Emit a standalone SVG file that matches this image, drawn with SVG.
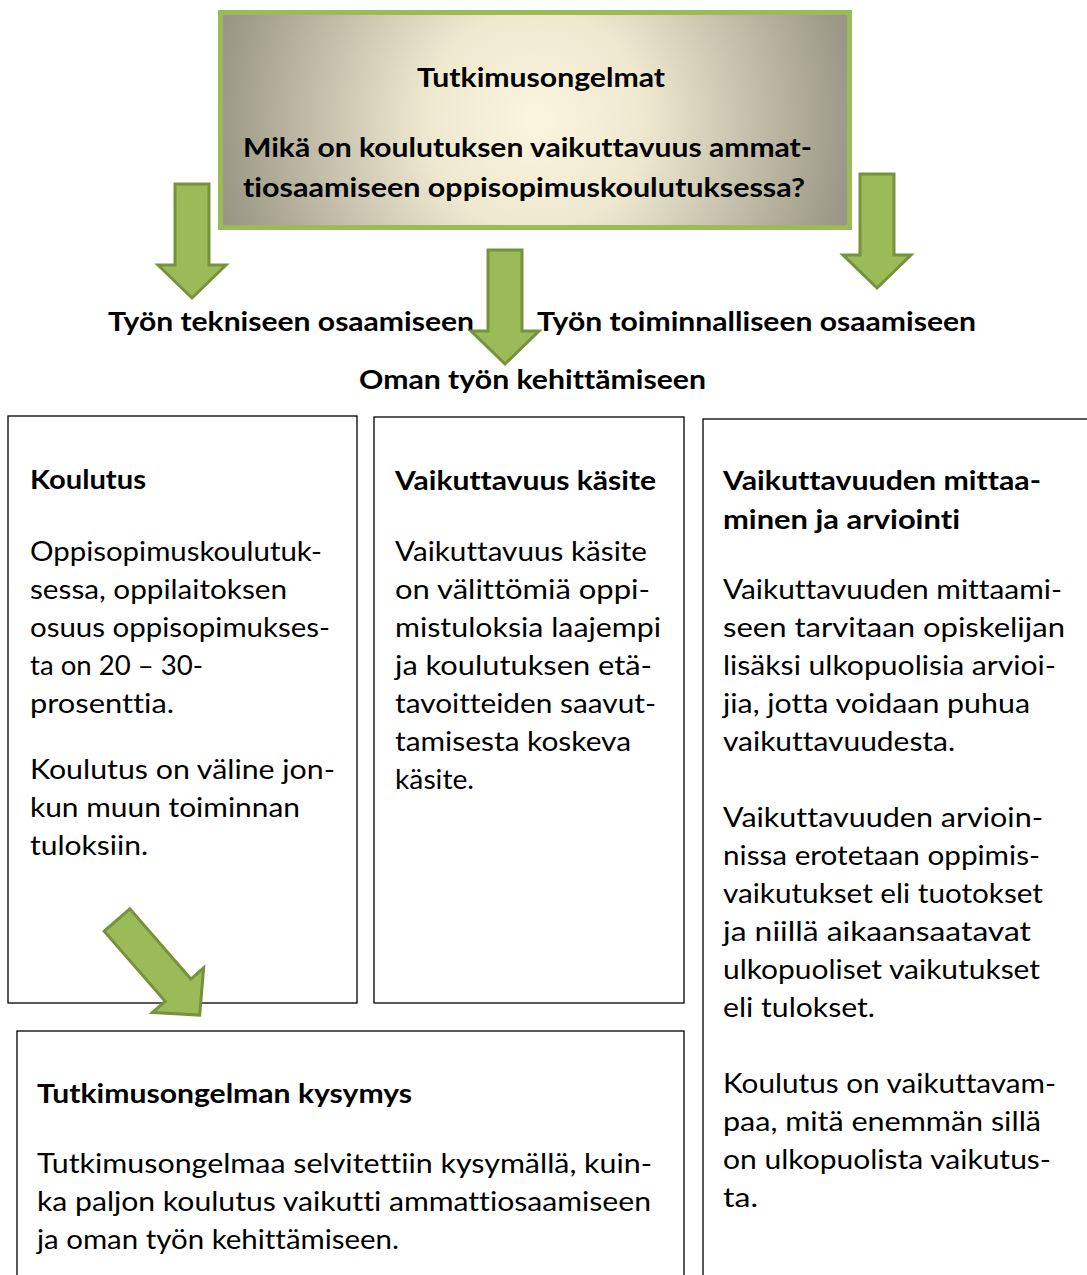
<svg xmlns="http://www.w3.org/2000/svg" width="1087" height="1275" viewBox="0 0 1087 1275">
<style>
.box{fill:#fff;stroke:#000;stroke-width:1.3}
.t{font-family:Lato,"Open Sans","Liberation Sans",sans-serif;font-size:27px;fill:#000;font-variant-ligatures:none}
.b{font-weight:bold}
.arr{fill:#9BBB59;stroke:#76923C;stroke-width:3;stroke-linejoin:miter}
</style>
<defs>
<radialGradient id="g" gradientUnits="userSpaceOnUse" cx="535" cy="120" r="370">
<stop offset="0" stop-color="#FBF5DF"/>
<stop offset="0.3" stop-color="#EEE8CF"/>
<stop offset="0.85" stop-color="#9C9988"/>
<stop offset="1" stop-color="#8C897C"/>
</radialGradient>
<path id="down" d="M-17,0 H17 V81 H34 L0,114 L-34,81 H-17 Z"/>
</defs>
<rect width="1087" height="1275" fill="#fff"/>
<g id="top-node">
<rect x="220.5" y="12.5" width="629" height="215" fill="url(#g)" stroke="#9BBB59" stroke-width="5"/>
<text class="t b" x="417" y="87" textLength="248" lengthAdjust="spacingAndGlyphs">Tutkimusongelmat</text>
<text class="t b" x="243" y="157" textLength="569" lengthAdjust="spacingAndGlyphs">Mikä on koulutuksen vaikuttavuus ammat-</text>
<text class="t b" x="243" y="197" textLength="562" lengthAdjust="spacingAndGlyphs">tiosaamiseen oppisopimuskoulutuksessa?</text>
</g>
<g id="labels">
<text class="t b" x="108" y="331" textLength="366" lengthAdjust="spacingAndGlyphs">Työn tekniseen osaamiseen</text>
<text class="t b" x="537" y="331" textLength="439" lengthAdjust="spacingAndGlyphs">Työn toiminnalliseen osaamiseen</text>
<text class="t b" x="359" y="389" textLength="347" lengthAdjust="spacingAndGlyphs">Oman työn kehittämiseen</text>
</g>
<g id="node-koulutus">
<rect class="box" x="8" y="416" width="349" height="587"/>
<text class="t b" x="30" y="489" textLength="116" lengthAdjust="spacingAndGlyphs">Koulutus</text>
<text class="t" x="30" y="561" textLength="292" lengthAdjust="spacingAndGlyphs">Oppisopimuskoulutuk-</text>
<text class="t" x="30" y="599" textLength="257" lengthAdjust="spacingAndGlyphs">sessa, oppilaitoksen</text>
<text class="t" x="30" y="637" textLength="300" lengthAdjust="spacingAndGlyphs">osuus oppisopimukses-</text>
<text class="t" x="30" y="675" textLength="173" lengthAdjust="spacingAndGlyphs">ta on 20 – 30-</text>
<text class="t" x="30" y="713" textLength="144" lengthAdjust="spacingAndGlyphs">prosenttia.</text>
<text class="t" x="30" y="779" textLength="305" lengthAdjust="spacingAndGlyphs">Koulutus on väline jon-</text>
<text class="t" x="30" y="817" textLength="270" lengthAdjust="spacingAndGlyphs">kun muun toiminnan</text>
<text class="t" x="30" y="855" textLength="118" lengthAdjust="spacingAndGlyphs">tuloksiin.</text>
</g>
<g id="node-kasite">
<rect class="box" x="374" y="417" width="310" height="586"/>
<text class="t b" x="395" y="490" textLength="261" lengthAdjust="spacingAndGlyphs">Vaikuttavuus käsite</text>
<text class="t" x="395" y="561" textLength="252" lengthAdjust="spacingAndGlyphs">Vaikuttavuus käsite</text>
<text class="t" x="395" y="599" textLength="255" lengthAdjust="spacingAndGlyphs">on välittömiä oppi-</text>
<text class="t" x="395" y="637" textLength="266" lengthAdjust="spacingAndGlyphs">mistuloksia laajempi</text>
<text class="t" x="395" y="675" textLength="257" lengthAdjust="spacingAndGlyphs">ja koulutuksen etä-</text>
<text class="t" x="395" y="713" textLength="261" lengthAdjust="spacingAndGlyphs">tavoitteiden saavut-</text>
<text class="t" x="395" y="751" textLength="236" lengthAdjust="spacingAndGlyphs">tamisesta koskeva</text>
<text class="t" x="395" y="789" textLength="79" lengthAdjust="spacingAndGlyphs">käsite.</text>
</g>
<g id="node-mittaaminen">
<rect class="box" x="703" y="419" width="400" height="880"/>
<text class="t b" x="723" y="490" textLength="318" lengthAdjust="spacingAndGlyphs">Vaikuttavuuden mittaa-</text>
<text class="t b" x="723" y="529" textLength="237" lengthAdjust="spacingAndGlyphs">minen ja arviointi</text>
<text class="t" x="723" y="599" textLength="339" lengthAdjust="spacingAndGlyphs">Vaikuttavuuden mittaami-</text>
<text class="t" x="723" y="637" textLength="342" lengthAdjust="spacingAndGlyphs">seen tarvitaan opiskelijan</text>
<text class="t" x="723" y="675" textLength="333" lengthAdjust="spacingAndGlyphs">lisäksi ulkopuolisia arvioi-</text>
<text class="t" x="723" y="713" textLength="307" lengthAdjust="spacingAndGlyphs">jia, jotta voidaan puhua</text>
<text class="t" x="723" y="751" textLength="232" lengthAdjust="spacingAndGlyphs">vaikuttavuudesta.</text>
<text class="t" x="723" y="827" textLength="320" lengthAdjust="spacingAndGlyphs">Vaikuttavuuden arvioin-</text>
<text class="t" x="723" y="865" textLength="317" lengthAdjust="spacingAndGlyphs">nissa erotetaan oppimis-</text>
<text class="t" x="723" y="903" textLength="320" lengthAdjust="spacingAndGlyphs">vaikutukset eli tuotokset</text>
<text class="t" x="723" y="941" textLength="308" lengthAdjust="spacingAndGlyphs">ja niillä aikaansaatavat</text>
<text class="t" x="723" y="979" textLength="317" lengthAdjust="spacingAndGlyphs">ulkopuoliset vaikutukset</text>
<text class="t" x="723" y="1017" textLength="152" lengthAdjust="spacingAndGlyphs">eli tulokset.</text>
<text class="t" x="723" y="1093" textLength="333" lengthAdjust="spacingAndGlyphs">Koulutus on vaikuttavam-</text>
<text class="t" x="723" y="1131" textLength="318" lengthAdjust="spacingAndGlyphs">paa, mitä enemmän sillä</text>
<text class="t" x="723" y="1169" textLength="328" lengthAdjust="spacingAndGlyphs">on ulkopuolista vaikutus-</text>
<text class="t" x="723" y="1207" textLength="35" lengthAdjust="spacingAndGlyphs">ta.</text>
</g>
<g id="node-kysymys">
<rect class="box" x="17" y="1031" width="667" height="300"/>
<text class="t b" x="37" y="1103" textLength="375" lengthAdjust="spacingAndGlyphs">Tutkimusongelman kysymys</text>
<text class="t" x="37" y="1173" textLength="615" lengthAdjust="spacingAndGlyphs">Tutkimusongelmaa selvitettiin kysymällä, kuin-</text>
<text class="t" x="37" y="1211" textLength="614" lengthAdjust="spacingAndGlyphs">ka paljon koulutus vaikutti ammattiosaamiseen</text>
<text class="t" x="37" y="1249" textLength="362" lengthAdjust="spacingAndGlyphs">ja oman työn kehittämiseen.</text>
</g>
<g id="connectors">
<use href="#down" class="arr" transform="translate(192,184)"/>
<use href="#down" class="arr" transform="translate(505,250)"/>
<use href="#down" class="arr" transform="translate(877,174)"/>
<path class="arr" transform="translate(117,920) rotate(-41)" d="M-17,0 H17 V93 H34 L0,126 L-34,93 H-17 Z"/>
</g>
</svg>
